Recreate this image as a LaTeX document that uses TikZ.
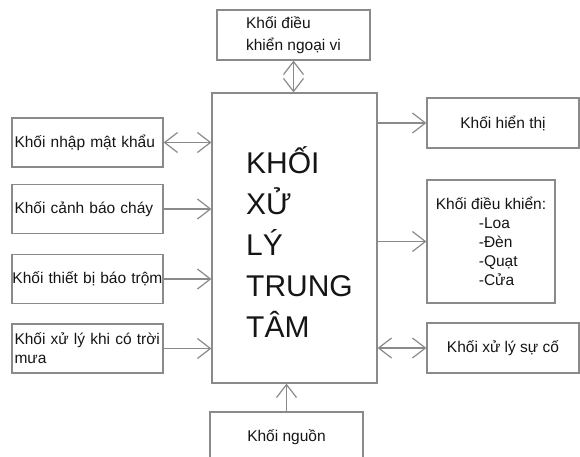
\documentclass[tikz,border=0pt]{standalone}
\usepackage{fontspec}
\setmainfont{Liberation Sans}
\usepackage{xcolor}
\usepackage{tikz}
\usetikzlibrary{arrows.meta,positioning}
\definecolor{linegray}{HTML}{8A8A8A}
\definecolor{textgray}{HTML}{151515}

\begin{document}
\begin{tikzpicture}[x=1pt, y=-1pt,
    blockbox/.style={rectangle, draw=linegray, line width=1.2pt, fill=white, text=textgray, font=\fontsize{15.5}{19}\selectfont, inner xsep=2pt, inner ysep=2pt},
    sidebox/.style={blockbox, minimum width=151pt, minimum height=49pt, text width=150pt, inner xsep=0.5pt, align=left},
    barrow/.style={-{Straight Barb[length=13pt,width=20pt]}, line width=1.2pt, linegray},
    biarrow/.style={{Straight Barb[length=13pt,width=20pt]}-{Straight Barb[length=13pt,width=20pt]}, line width=1.2pt, linegray}
  ]
    \useasboundingbox (0,0) rectangle (580,456);
    \clip (0,0) rectangle (580,456);

    \node[blockbox, minimum width=165pt, minimum height=290pt,
      label={[font=\fontsize{30}{41}\selectfont, align=left, text=textgray, xshift=5pt, yshift=-4pt]center:{KHỐI\\XỬ\\LÝ\\TRUNG\\TÂM}}] (cpu) at (294.5, 238) {};

    \node[blockbox, minimum width=153pt, minimum height=50pt, align=left, font=\fontsize{15.5}{22}\selectfont] (ctrl) at (293.5, 35) {Khối điều\\khiển ngoại vi};

    \node[sidebox] (pass) at (87.5, 142.5) {\hspace*{2pt}Khối nhập mật khẩu};
    \node[sidebox] (fire) at (87.5, 209) {\hspace*{2pt}Khối cảnh báo cháy};
    \node[sidebox] (theft) at (87.5, 279) {\mbox{Khối thiết bị báo trộm}};
    \node[sidebox] (rain) at (87.5, 348.5) {\hspace*{2pt}Khối xử lý khi có trời\\\hspace*{2pt}mưa};

    \node[blockbox, minimum width=152pt, minimum height=50pt] (disp) at (503, 123) {Khối hiển thị};
    \node[blockbox, minimum width=128pt, minimum height=123pt, align=left] (act) at (491, 241.5) {Khối điều khiển:\\\hspace*{43pt}-Loa\\\hspace*{43pt}-Đèn\\\hspace*{43pt}-Quạt\\\hspace*{43pt}-Cửa};
    \node[blockbox, minimum width=152pt, minimum height=50pt] (fault) at (503, 348) {Khối xử lý sự cố};

    \node[blockbox, minimum width=153pt, minimum height=50pt] (power) at (286.5, 437) {Khối nguồn};

    \draw[biarrow] (ctrl.south) -- (ctrl.south |- cpu.north);
    \draw[biarrow] (pass.east) -- (pass.east -| cpu.west);
    \draw[barrow] (fire.east) -- (fire.east -| cpu.west);
    \draw[barrow] (theft.east) -- (theft.east -| cpu.west);
    \draw[barrow] (rain.east) -- (rain.east -| cpu.west);
    \draw[barrow] (disp.west -| cpu.east) -- (disp.west);
    \draw[barrow] (act.west -| cpu.east) -- (act.west);
    \draw[biarrow] (fault.west) -- (fault.west -| cpu.east);
    \draw[barrow] (power.north) -- (power.north |- cpu.south);
\end{tikzpicture}
\end{document}
